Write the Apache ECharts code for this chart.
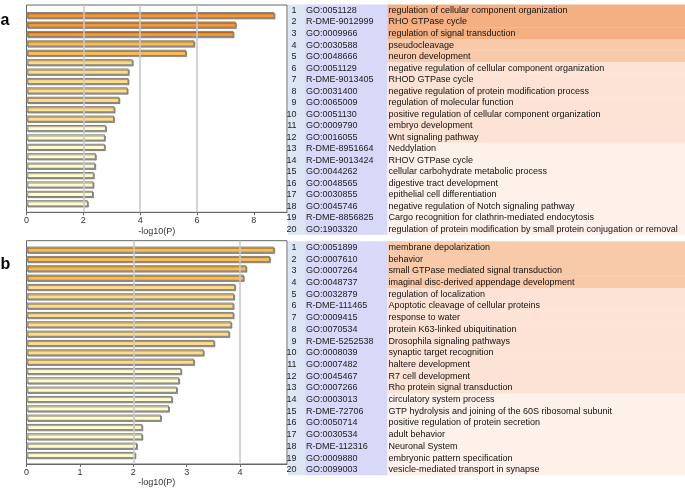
<!DOCTYPE html>
<html><head><meta charset="utf-8">
<script src="https://cdn.jsdelivr.net/npm/echarts@6/dist/echarts.min.js"></script>
<style>html,body{margin:0;padding:0;background:#fff}#c{width:685px;height:497px}</style>
</head><body><div id="c"></div>
<script>
// ---- data ----
const valuesA = [8.73,7.37,7.29,5.91,5.62,3.74,3.60,3.59,3.56,3.27,3.10,3.08,2.80,2.76,2.76,2.44,2.42,2.37,2.36,2.34,2.16];
const valuesB = [4.64,4.56,4.12,4.07,3.91,3.89,3.88,3.88,3.84,3.80,3.52,3.32,3.14,2.90,2.86,2.82,2.73,2.67,2.52,2.17,2.17,2.07,2.04];
const ticksA = [0,2,4,6,8];
const ticksB = [0,1,2,3,4];
const gridLinesA = [2,4,6];
const gridLinesB = [2,4];
const axisMaxA = 9.17;
const axisMaxB = 4.88;
const axisTitle = '-log10(P)';
const idsA = ['GO:0051128','R-DME-9012999','GO:0009966','GO:0030588','GO:0048666','GO:0051129','R-DME-9013405','GO:0031400','GO:0065009','GO:0051130','GO:0009790','GO:0016055','R-DME-8951664','R-DME-9013424','GO:0044262','GO:0048565','GO:0030855','GO:0045746','R-DME-8856825','GO:1903320'];
const termsA = ['regulation of cellular component organization','RHO GTPase cycle','regulation of signal transduction','pseudocleavage','neuron development','negative regulation of cellular component organization','RHOD GTPase cycle','negative regulation of protein modification process','regulation of molecular function','positive regulation of cellular component organization','embryo development','Wnt signaling pathway','Neddylation','RHOV GTPase cycle','cellular carbohydrate metabolic process','digestive tract development','epithelial cell differentiation','negative regulation of Notch signaling pathway','Cargo recognition for clathrin-mediated endocytosis','regulation of protein modification by small protein conjugation or removal'];
const idsB = ['GO:0051899','GO:0007610','GO:0007264','GO:0048737','GO:0032879','R-DME-111465','GO:0009415','GO:0070534','R-DME-5252538','GO:0008039','GO:0007482','GO:0045467','GO:0007266','GO:0003013','R-DME-72706','GO:0050714','GO:0030534','R-DME-112316','GO:0009880','GO:0099003'];
const termsB = ['membrane depolarization','behavior','small GTPase mediated signal transduction','imaginal disc-derived appendage development','regulation of localization','Apoptotic cleavage of cellular proteins','response to water','protein K63-linked ubiquitination','Drosophila signaling pathways','synaptic target recognition','haltere development','R7 cell development','Rho protein signal transduction','circulatory system process','GTP hydrolysis and joining of the 60S ribosomal subunit','positive regulation of protein secretion','adult behavior','Neuronal System','embryonic pattern specification','vesicle-mediated transport in synapse'];
const panelLabels = ['a','b'];

// ---- style ----
const FONT = '"Liberation Sans", Arial, sans-serif';
const barColors = ['#F8962F','#FDBB4F','#FEDD8A','#FFFDCC'];
const rowColors = ['#F4B083','#F8CAAA','#FCE3D5','#FEF1EA'];
function level(v){ return v>=6?0:(v>=4?1:(v>=3?2:3)); }

const chart = echarts.init(document.getElementById('c'), null, {renderer:'canvas'});

const L = 26.5, R = 685-287;
const panels = [
  {vals:valuesA, ticks:ticksA, lines:gridLinesA, max:axisMaxA, frameTop:5, frameH:207.3, barTop:10.5, barH:197.5,
   ids:idsA, terms:termsA, tTop:4.4, rh:11.52, label:panelLabels[0], labelY:28.5},
  {vals:valuesB, ticks:ticksB, lines:gridLinesB, max:axisMaxB, frameTop:240.7, frameH:223.3, barTop:245, barH:214.7,
   ids:idsB, terms:termsB, tTop:241.3, rh:11.7, label:panelLabels[1], labelY:272.8}
];

const grid=[], xAxis=[], yAxis=[], series=[], graphic=[];
panels.forEach((p,k)=>{
  const gF = grid.length;
  grid.push({left:L, right:R, top:p.frameTop, height:p.frameH, show:true, borderColor:'#666', borderWidth:1, backgroundColor:'transparent'});
  grid.push({left:L, right:R, top:p.barTop, height:p.barH});
  xAxis.push({gridIndex:gF, type:'value', min:0, max:p.max,
    axisLine:{show:true, lineStyle:{color:'#666', width:1}},
    axisTick:{show:true, length:3, customValues:p.ticks, lineStyle:{color:'#666'}},
    axisLabel:{customValues:p.ticks, fontSize:9, fontFamily:FONT, color:'#333', margin:4},
    splitLine:{show:false},
    name:axisTitle, nameLocation:'middle', nameGap:14.5, nameTextStyle:{fontSize:9, fontFamily:FONT, color:'#333'}});
  xAxis.push({gridIndex:gF+1, type:'value', min:0, max:p.max, show:false, splitLine:{show:false}});
  yAxis.push({gridIndex:gF, type:'value', min:0, max:1, show:false, splitLine:{show:false}});
  yAxis.push({gridIndex:gF+1, type:'category', inverse:true, show:false, data:p.vals.map((_,i)=>String(i+1))});
  // vertical reference lines spanning the frame, placed through the axis scale
  series.push({type:'line', xAxisIndex:gF, yAxisIndex:gF, silent:true, z:1, symbol:'none',
    data:[[0,0]], lineStyle:{opacity:0}, animation:false,
    markLine:{silent:true, symbol:'none', label:{show:false}, animation:false,
      lineStyle:{color:'#cacaca', width:1.6, type:'solid'},
      data:p.lines.map(v=>({xAxis:v}))}});
  series.push({type:'bar', xAxisIndex:gF+1, yAxisIndex:gF+1, z:2, barWidth:6.2,
    data:p.vals.map(v=>({value:v, itemStyle:{color:barColors[level(v)]}})),
    itemStyle:{borderColor:'#808080', borderWidth:1, shadowColor:'rgba(0,0,0,0.35)', shadowOffsetX:1, shadowOffsetY:1.2, shadowBlur:0},
    silent:true, animation:false});

  // table
  const n = p.ids.length;
  graphic.push({type:'rect', shape:{x:288, y:p.tTop, width:17, height:n*p.rh}, style:{fill:'#DCE6F5'}});
  graphic.push({type:'rect', shape:{x:305, y:p.tTop, width:82.5, height:n*p.rh}, style:{fill:'#D8D8F8'}});
  for(let i=0;i<n;i++){
    const y = p.tTop + i*p.rh;
    graphic.push({type:'rect', shape:{x:387.5, y:y, width:685-387.5, height:p.rh+0.3}, style:{fill:rowColors[level(p.vals[i])]}});
    const cy = y + p.rh/2 + 0.3;
    graphic.push({type:'text', x:296.5, y:cy, style:{text:String(i+1), fill:'#222', font:'9px '+FONT, textAlign:'right', textVerticalAlign:'middle'}});
    graphic.push({type:'text', x:306, y:cy, style:{text:p.ids[i], fill:'#222', font:'9px '+FONT, textAlign:'left', textVerticalAlign:'middle'}});
    graphic.push({type:'text', x:388.5, y:cy, style:{text:p.terms[i], fill:'#111', font:'9px '+FONT, textAlign:'left', textVerticalAlign:'middle'}});
  }
  graphic.push({type:'text', x:0.5, y:p.labelY, style:{text:p.label, fill:'#000', font:'bold 16px '+FONT, textAlign:'left', textVerticalAlign:'bottom'}});
});

chart.setOption({animation:false, grid, xAxis, yAxis, series, graphic});
</script>
</body></html>
